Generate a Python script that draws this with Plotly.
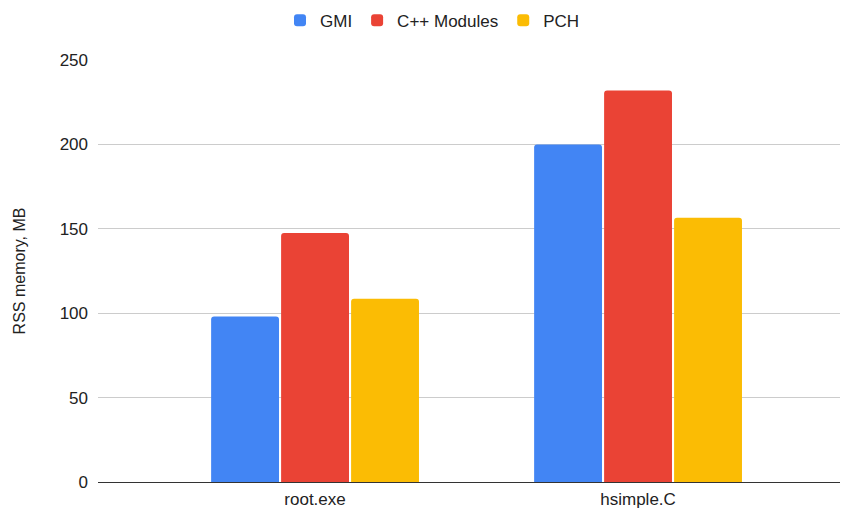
import plotly.graph_objects as go

categories = ["root.exe", "hsimple.C"]
gmi = [98, 200]
cxx_modules = [147.5, 232]
pch = [108.5, 156.5]
y_ticks = [0, 50, 100, 150, 200, 250]

fig = go.Figure()
for name, vals, color in [("GMI", gmi, "#4285F4"),
                          ("C++ Modules", cxx_modules, "#EA4335"),
                          ("PCH", pch, "#FBBC04")]:
    fig.add_trace(go.Bar(x=categories, y=vals, name=name,
                         marker=dict(color=color, cornerradius=3, line=dict(width=0))))

fig.update_layout(
    width=840, height=504,
    barmode="group", bargap=0.35, bargroupgap=0.03,
    plot_bgcolor="white", paper_bgcolor="white",
    font=dict(family="Arial, Liberation Sans, sans-serif", size=17, color="#222222"),
    margin=dict(l=90, r=0, t=52, b=30, autoexpand=False),
    legend=dict(orientation="h", x=0.446, xanchor="center", y=0.975, yanchor="middle",
                yref="container", font=dict(size=17), itemwidth=30),
    xaxis=dict(range=[-0.672, 1.65], showgrid=False, ticks="", automargin=False,
               ticklabelstandoff=5, tickfont=dict(size=17)),
    yaxis=dict(range=[0, 250], tickvals=y_ticks, showgrid=True, gridcolor="#cccccc",
               zeroline=True, zerolinecolor="#333333", zerolinewidth=1.3,
               ticks="", ticklabelstandoff=9, automargin=False,
               tickfont=dict(size=17),
               title=dict(text="RSS memory, MB", font=dict(size=16), standoff=30)),
)
fig.write_html("out.html")
